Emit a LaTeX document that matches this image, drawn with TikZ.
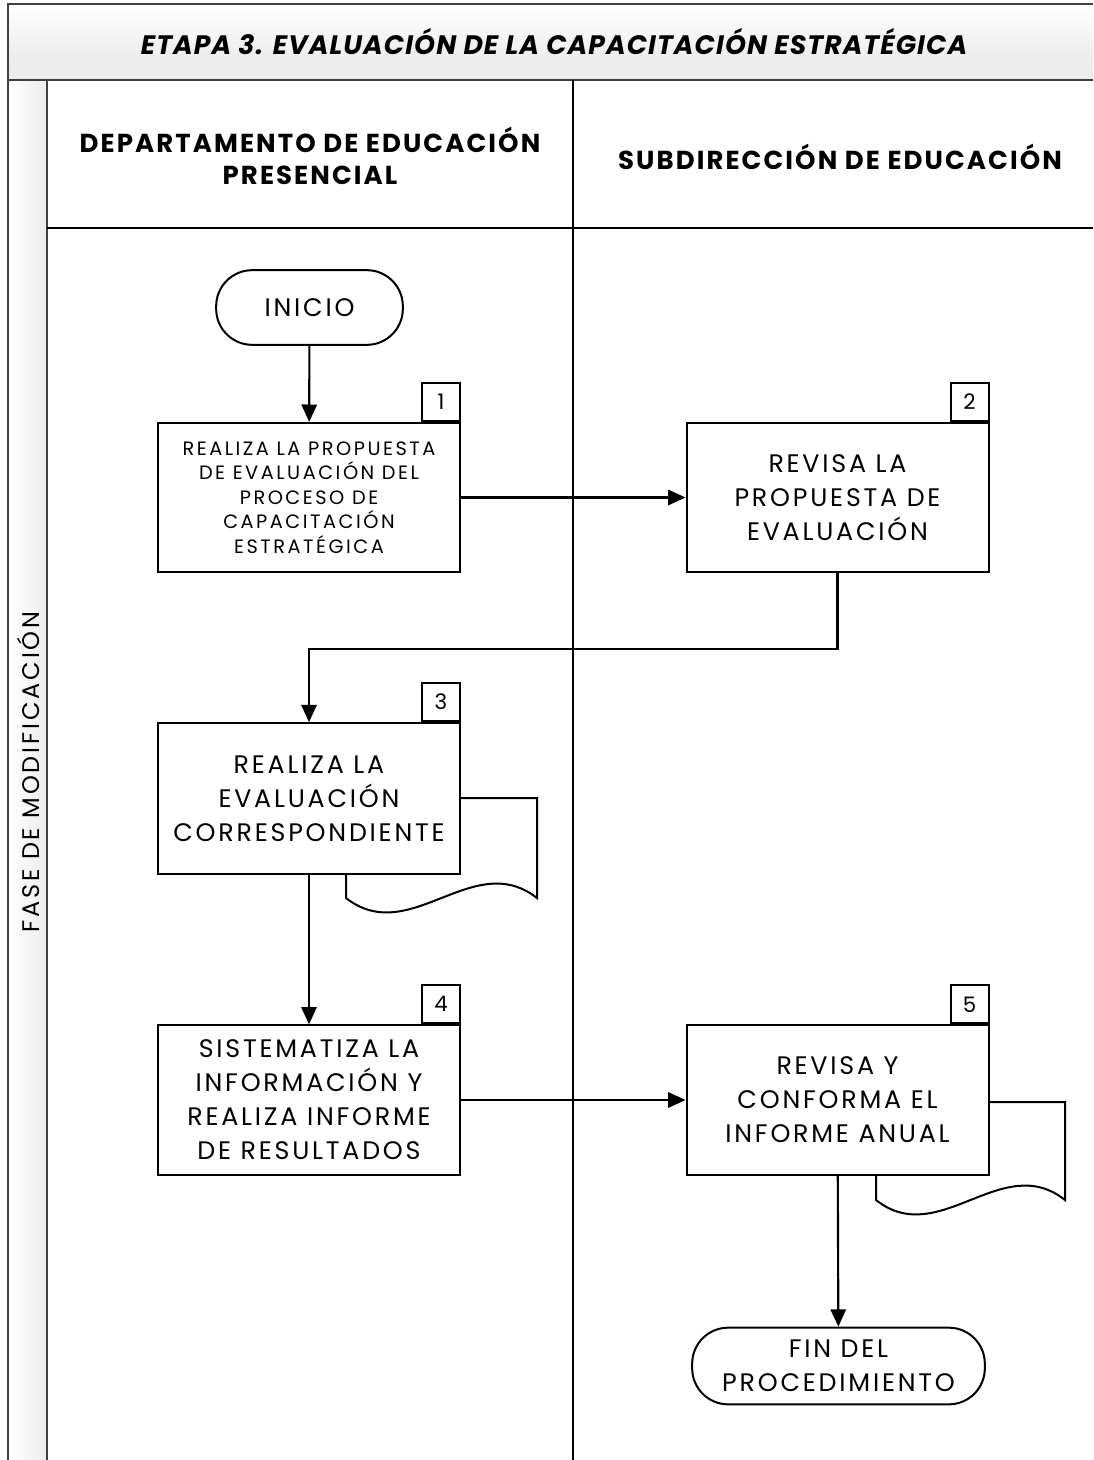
\documentclass[tikz,border=0pt]{standalone}
\usepackage{fontspec}
\setmainfont{Poppins}
\usetikzlibrary{arrows.meta,positioning}

\definecolor{framegray}{RGB}{64,64,64}
\definecolor{bandgray}{RGB}{236,236,236}

\tikzset{every picture/.style={line width=0.75pt}}
\tikzset{
  procbox/.style={draw, fill=white, line width=1.5pt, minimum width=226.5pt, minimum height=112pt, align=center, inner sep=2pt},
  bigtext/.style={font={\fontsize{19}{25.5}\selectfont\addfontfeature{LetterSpace=11}}},
  smalltext/.style={font={\fontsize{14.5}{18.4}\selectfont\addfontfeature{LetterSpace=13}}},
  numbox/.style={draw, fill=white, line width=1.5pt, minimum size=28.5pt, inner sep=0pt, font=\fontsize{16}{16}\selectfont, anchor=south east},
  termbox/.style={draw, fill=white, line width=1.5pt, rounded corners=27pt, align=center, inner sep=2pt},
  flow/.style={line width=1.6pt, -{Triangle[length=13pt,width=11.5pt]}},
  docshape/.style={draw, fill=white, line width=1.5pt},
  lanehead/.style={font={\bfseries\fontsize{19.5}{24}\selectfont\addfontfeature{LetterSpace=8}}, align=center},
}

\begin{document}
\begin{tikzpicture}[x=0.75pt,y=0.75pt,yscale=-1,xscale=1]
\useasboundingbox (0,0) rectangle (1093,1460);

%Title band and side strip
\fill[bandgray] (8,4) rectangle (1093,80);
\shade[top color=white, bottom color=bandgray] (8,4) rectangle (1093,60);
\shade[left color=white, right color=bandgray] (8,80) rectangle (47,1460);
\draw[framegray, line width=1.5pt] (1093,4) -- (8,4) -- (8,1460);
\draw[framegray, line width=1.5pt] (8,80) -- (1093,80);
\draw[framegray, line width=1.2pt] (47,80) -- (47,1460);
%Lanes
\draw[line width=1.2pt] (573,80) -- (573,1460);
\draw[line width=1.5pt] (47,228) -- (1093,228);

% Text Node
\node[font={\bfseries\itshape\fontsize{20}{22}\selectfont\addfontfeature{LetterSpace=4}}] (title) at (554,42) {ETAPA 3. EVALUACIÓN DE LA CAPACITACIÓN ESTRATÉGICA};
\node[lanehead] (dep) at (310,156) {DEPARTAMENTO DE EDUCACIÓN\\PRESENCIAL};
\node[lanehead] (sub) at (840,157) {SUBDIRECCIÓN DE EDUCACIÓN};
\node[rotate=90, font={\fontsize{18}{20}\selectfont\addfontfeature{LetterSpace=12}}] (fase) at (28,772) {FASE DE MODIFICACIÓN};

%Shape: Document behind step 3
\draw[docshape] (346,798) -- (537,798) -- (537,898) .. controls (473,848) and (410,948) .. (346,898) -- cycle;
%Shape: Document behind step 5
\draw[docshape] (876,1102) -- (1065,1102) -- (1065,1200) .. controls (1002,1150) and (939,1250) .. (876,1200) -- cycle;

%Steps
\node[termbox, bigtext, minimum width=140pt, minimum height=56pt] (inicio) at (309.5,307.5) {INICIO};
\node[procbox, smalltext] (paso1) at (309,497.5) {REALIZA LA PROPUESTA\\DE EVALUACIÓN DEL\\PROCESO DE\\CAPACITACIÓN\\ESTRATÉGICA};
\node[procbox, bigtext] (paso2) at (837.5,497.5) {REVISA LA\\PROPUESTA DE\\EVALUACIÓN};
\node[procbox, bigtext, minimum height=113pt] (paso3) at (309,798.5) {REALIZA LA\\EVALUACIÓN\\CORRESPONDIENTE};
\node[procbox, bigtext] (paso4) at (309,1100) {SISTEMATIZA LA\\INFORMACIÓN Y\\REALIZA INFORME\\DE RESULTADOS};
\node[procbox, bigtext] (paso5) at (837.5,1100) {REVISA Y\\CONFORMA EL\\INFORME ANUAL};
\node[termbox, bigtext, minimum width=219.5pt, minimum height=57.5pt] (fin) at (838.5,1366) {FIN DEL\\PROCEDIMIENTO};

%Step numbers
\node[numbox] (n1) at (paso1.north east) {1};
\node[numbox] (n2) at (paso2.north east) {2};
\node[numbox] (n3) at (paso3.north east) {3};
\node[numbox] (n4) at (paso4.north east) {4};
\node[numbox] (n5) at (paso5.north east) {5};

%Connectors
\draw[flow] (inicio) -- (paso1);
\draw[flow] (paso1) -- (paso2);
\draw[flow] (paso2.south) -- ++(0,76) -| (paso3.north);
\draw[flow] (paso3) -- (paso4);
\draw[flow] (paso4) -- (paso5);
\draw[flow] (paso5) -- (fin);

\end{tikzpicture}
\end{document}
